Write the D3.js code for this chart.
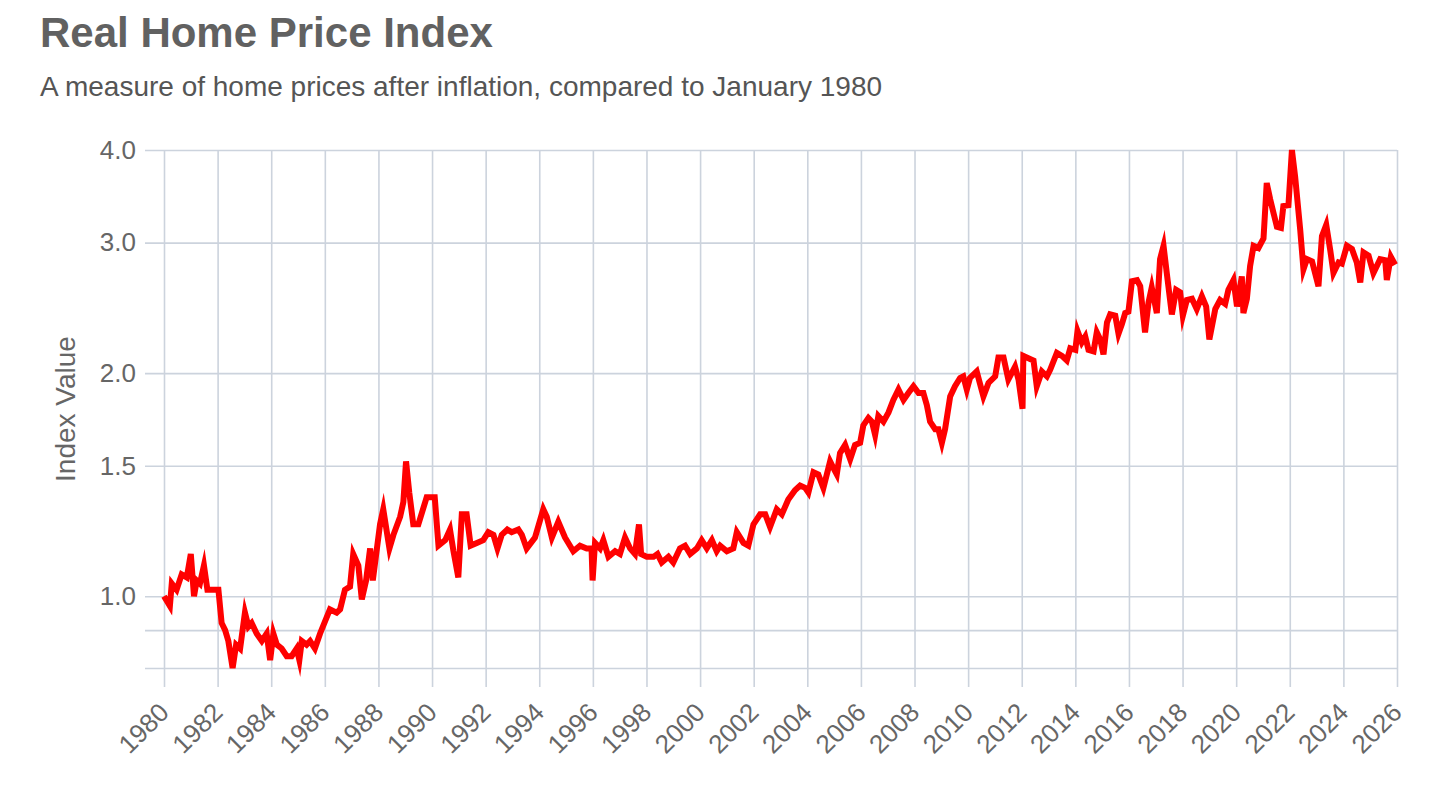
<!DOCTYPE html>
<html>
<head>
<meta charset="utf-8">
<title>Real Home Price Index</title>
<script src="https://cdn.jsdelivr.net/npm/d3@7"></script>
<style>
  body { margin: 0; background: #fff; }
  svg { display: block; font-family: "Liberation Sans", Arial, Helvetica, sans-serif; }
</style>
</head>
<body>
<div id="chart"></div>
<script>
// Data (decimal year, index value vs Jan 1980)
const years = [
  1980.00, 1980.22, 1980.29, 1980.47, 1980.66, 1980.85, 1981.00, 1981.12, 1981.22, 1981.34,
  1981.49, 1981.62, 1981.97, 1982.03, 1982.15, 1982.28, 1982.40, 1982.56, 1982.69, 1982.84,
  1983.02, 1983.15, 1983.27, 1983.46, 1983.65, 1983.83, 1983.96, 1984.08, 1984.21, 1984.39,
  1984.58, 1984.76, 1984.95, 1985.05, 1985.14, 1985.32, 1985.45, 1985.63, 1985.82, 1986.19,
  1986.44, 1986.57, 1986.75, 1986.94, 1987.06, 1987.25, 1987.38, 1987.54, 1987.69, 1987.79,
  1988.06, 1988.18, 1988.41, 1988.56, 1988.81, 1988.93, 1989.03, 1989.15, 1989.30, 1989.49,
  1989.80, 1990.05, 1990.10, 1990.24, 1990.49, 1990.67, 1990.80, 1990.98, 1991.11, 1991.29,
  1991.44, 1991.67, 1991.91, 1992.10, 1992.29, 1992.44, 1992.60, 1992.81, 1992.97, 1993.22,
  1993.35, 1993.53, 1993.84, 1994.15, 1994.28, 1994.47, 1994.71, 1994.96, 1995.27, 1995.52,
  1995.77, 1995.95, 1995.99, 1996.08, 1996.27, 1996.39, 1996.58, 1996.83, 1997.01, 1997.20,
  1997.39, 1997.57, 1997.72, 1997.80, 1998.01, 1998.26, 1998.41, 1998.57, 1998.82, 1999.00,
  1999.25, 1999.44, 1999.63, 1999.88, 2000.06, 2000.25, 2000.44, 2000.62, 2000.75, 2001.00,
  2001.24, 2001.37, 2001.62, 2001.80, 2001.99, 2002.24, 2002.43, 2002.61, 2002.86, 2003.05,
  2003.29, 2003.54, 2003.73, 2003.92, 2004.04, 2004.23, 2004.41, 2004.60, 2004.85, 2004.97,
  2005.10, 2005.22, 2005.41, 2005.60, 2005.78, 2005.97, 2006.09, 2006.28, 2006.41, 2006.53,
  2006.65, 2006.84, 2007.03, 2007.21, 2007.40, 2007.59, 2007.77, 2007.96, 2008.15, 2008.33,
  2008.46, 2008.58, 2008.77, 2008.89, 2009.02, 2009.14, 2009.33, 2009.51, 2009.70, 2009.82,
  2009.95, 2010.07, 2010.32, 2010.57, 2010.76, 2011.01, 2011.13, 2011.32, 2011.50, 2011.75,
  2011.88, 2012.03, 2012.06, 2012.31, 2012.44, 2012.56, 2012.75, 2012.94, 2013.06, 2013.31,
  2013.50, 2013.68, 2013.81, 2014.00, 2014.08, 2014.24, 2014.37, 2014.49, 2014.68, 2014.80,
  2014.93, 2015.05, 2015.18, 2015.30, 2015.49, 2015.61, 2015.74, 2015.86, 2015.98, 2016.11,
  2016.30, 2016.42, 2016.60, 2016.73, 2016.85, 2017.04, 2017.16, 2017.29, 2017.41, 2017.60,
  2017.76, 2017.91, 2018.01, 2018.16, 2018.35, 2018.53, 2018.72, 2018.88, 2019.00, 2019.22,
  2019.40, 2019.59, 2019.71, 2019.90, 2020.03, 2020.21, 2020.27, 2020.40, 2020.52, 2020.65,
  2020.83, 2021.02, 2021.14, 2021.27, 2021.52, 2021.67, 2021.76, 2021.95, 2022.08, 2022.20,
  2022.39, 2022.51, 2022.64, 2022.83, 2023.07, 2023.20, 2023.36, 2023.51, 2023.63, 2023.82,
  2023.94, 2024.13, 2024.32, 2024.50, 2024.63, 2024.75, 2024.94, 2025.12, 2025.37, 2025.56,
  2025.62, 2025.77, 2025.93
];

const indexValues = [
  1.00, 0.97, 1.04, 1.02, 1.07, 1.06, 1.14, 1.00, 1.05, 1.04,
  1.10, 1.02, 1.02, 1.02, 0.92, 0.90, 0.87, 0.80, 0.86, 0.85,
  0.95, 0.91, 0.92, 0.89, 0.87, 0.89, 0.82, 0.89, 0.86, 0.85,
  0.83, 0.83, 0.85, 0.82, 0.87, 0.86, 0.87, 0.85, 0.89, 0.96,
  0.95, 0.96, 1.02, 1.03, 1.14, 1.10, 0.99, 1.05, 1.16, 1.05,
  1.25, 1.31, 1.16, 1.21, 1.28, 1.34, 1.52, 1.38, 1.25, 1.25,
  1.36, 1.36, 1.36, 1.17, 1.19, 1.23, 1.15, 1.06, 1.29, 1.29,
  1.17, 1.18, 1.19, 1.22, 1.21, 1.16, 1.21, 1.23, 1.22, 1.23,
  1.21, 1.16, 1.20, 1.31, 1.28, 1.20, 1.26, 1.20, 1.15, 1.17,
  1.16, 1.16, 1.05, 1.18, 1.16, 1.19, 1.13, 1.15, 1.14, 1.20,
  1.16, 1.14, 1.25, 1.14, 1.13, 1.13, 1.14, 1.11, 1.13, 1.11,
  1.16, 1.17, 1.14, 1.16, 1.19, 1.16, 1.19, 1.15, 1.17, 1.15,
  1.16, 1.22, 1.18, 1.17, 1.25, 1.29, 1.29, 1.24, 1.31, 1.29,
  1.35, 1.39, 1.41, 1.40, 1.38, 1.47, 1.46, 1.40, 1.52, 1.49,
  1.46, 1.56, 1.60, 1.53, 1.60, 1.61, 1.70, 1.74, 1.72, 1.65,
  1.75, 1.72, 1.77, 1.84, 1.90, 1.84, 1.88, 1.92, 1.88, 1.88,
  1.81, 1.72, 1.68, 1.68, 1.61, 1.68, 1.86, 1.92, 1.97, 1.98,
  1.90, 1.97, 2.01, 1.86, 1.94, 1.98, 2.10, 2.10, 1.96, 2.04,
  1.96, 1.79, 2.11, 2.09, 2.08, 1.92, 2.01, 1.98, 2.02, 2.13,
  2.11, 2.08, 2.16, 2.15, 2.28, 2.20, 2.24, 2.15, 2.14, 2.27,
  2.22, 2.12, 2.34, 2.40, 2.39, 2.26, 2.33, 2.41, 2.42, 2.66,
  2.67, 2.62, 2.27, 2.49, 2.61, 2.41, 2.85, 2.97, 2.73, 2.40,
  2.59, 2.57, 2.39, 2.51, 2.52, 2.44, 2.54, 2.46, 2.22, 2.44,
  2.51, 2.48, 2.59, 2.67, 2.46, 2.70, 2.41, 2.52, 2.79, 2.97,
  2.95, 3.04, 3.61, 3.43, 3.15, 3.14, 3.36, 3.37, 4.00, 3.68,
  3.12, 2.76, 2.85, 2.83, 2.62, 3.06, 3.17, 2.93, 2.73, 2.82,
  2.81, 2.97, 2.94, 2.82, 2.65, 2.91, 2.88, 2.73, 2.85, 2.84,
  2.67, 2.87, 2.80
];

const yTicks = [0.8, 0.9, 1.0, 1.5, 2.0, 3.0, 4.0];
const yLabelled = [1.0, 1.5, 2.0, 3.0, 4.0];
const xTicks = d3.range(1980, 2027, 2);

const titleText = "Real Home Price Index";
const subtitleText = "A measure of home prices after inflation, compared to January 1980";
const yAxisTitle = "Index Value";

function drawChart() {
  const W = 1456, H = 811;
  const margin = {top: 150, right: 59, bottom: 143, left: 164};
  const width = W - margin.left - margin.right,
        height = H - margin.top - margin.bottom;
  const tickOut = 19;

  const svg = d3.select("#chart").append("svg")
      .attr("width", W)
      .attr("height", H);

  // Title + subtitle
  svg.append("text")
      .attr("x", 40).attr("y", 47)
      .attr("font-size", 42).attr("font-weight", "bold")
      .attr("fill", "#616161")
      .text(titleText);

  svg.append("text")
      .attr("x", 40).attr("y", 96)
      .attr("font-size", 28)
      .attr("fill", "#555")
      .text(subtitleText);

  const g = svg.append("g")
      .attr("transform", `translate(${margin.left},${margin.top})`);

  const x = d3.scaleLinear().domain([1980, 2026]).range([0, width]);
  const y = d3.scaleLog().domain([0.8, 4.0]).range([height, 0]);

  // Y grid + labels
  const yAxis = g.append("g")
      .attr("transform", `translate(${-tickOut},0)`)
      .call(d3.axisLeft(y)
        .tickValues(yTicks)
        .tickSize(-(width + tickOut))
        .tickPadding(9)
        .tickFormat(d => yLabelled.includes(d) ? d3.format(".1f")(d) : ""));
  yAxis.select(".domain").remove();
  yAxis.selectAll("line").attr("stroke", "#ccd3dd").attr("stroke-width", 1.6);
  yAxis.selectAll("text")
      .attr("font-size", 26)
      .attr("font-family", "Liberation Sans, Arial, sans-serif")
      .attr("fill", "#666");

  // X grid + labels
  const xAxis = g.append("g")
      .attr("transform", `translate(0,${height + tickOut})`)
      .call(d3.axisBottom(x)
        .tickValues(xTicks)
        .tickSize(-(height + tickOut))
        .tickFormat(d3.format("d")));
  xAxis.select(".domain").remove();
  xAxis.selectAll("line").attr("stroke", "#ccd3dd").attr("stroke-width", 1.6);
  xAxis.selectAll("text")
      .attr("font-size", 26)
      .attr("font-family", "Liberation Sans, Arial, sans-serif")
      .attr("fill", "#666")
      .attr("y", 0).attr("dy", 0)
      .attr("text-anchor", "end")
      .attr("transform", "translate(6,27)rotate(-45)");

  // Y axis title
  svg.append("text")
      .attr("transform", `translate(75,${margin.top + height / 2})rotate(-90)`)
      .attr("text-anchor", "middle")
      .attr("font-size", 28)
      .attr("fill", "#666")
      .text(yAxisTitle);

  // The index line
  const data = years.map((yr, i) => ({year: yr, value: indexValues[i]}));
  const line = d3.line()
      .x(d => x(d.year))
      .y(d => y(d.value));

  g.append("path")
      .datum(data)
      .attr("fill", "none")
      .attr("stroke", "#ff0000")
      .attr("stroke-width", 6)
      .attr("stroke-linejoin", "miter")
      .attr("stroke-miterlimit", 6)
      .attr("d", line);
}

drawChart();
</script>
</body>
</html>
